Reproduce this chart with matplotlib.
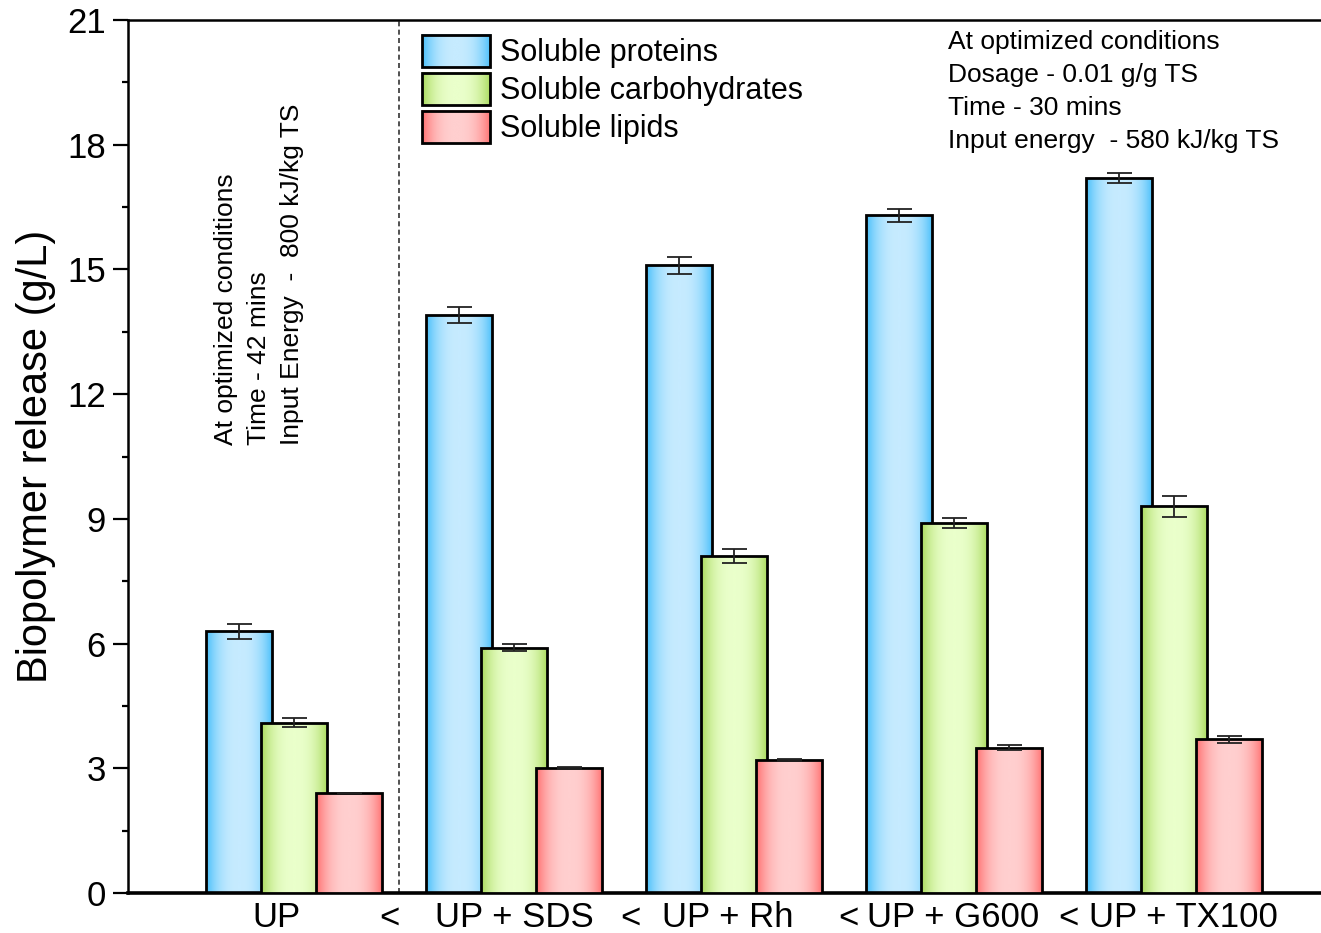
import matplotlib
matplotlib.use('Agg')
import matplotlib.pyplot as plt
import numpy as np
from matplotlib.colors import LinearSegmentedColormap
from matplotlib.legend_handler import HandlerBase
from matplotlib.image import BboxImage
from matplotlib.transforms import Bbox, TransformedBbox, blended_transform_factory
from matplotlib.patches import Rectangle
from matplotlib.ticker import MultipleLocator

# data
categories = ['UP', 'UP + SDS', 'UP + Rh', 'UP + G600', 'UP + TX100']
series = ['Soluble proteins', 'Soluble carbohydrates', 'Soluble lipids']
proteins = [6.3, 13.9, 15.1, 16.3, 17.2]
proteins_err = [0.18, 0.2, 0.2, 0.15, 0.12]
carbs = [4.1, 5.9, 8.1, 8.9, 9.3]
carbs_err = [0.1, 0.09, 0.17, 0.12, 0.25]
lipids = [2.4, 3.0, 3.2, 3.5, 3.7]
lipids_err = [0.0, 0.02, 0.03, 0.07, 0.08]

# label placement tweaks (group units)
label_shift = [-0.08, 0.0, -0.03, -0.005, 0.045]
sep_pos = [0.436, 1.527, 2.518, 3.518]

colors = [('#46BEFA', '#C6EBFF'), ('#A8DA5A', '#EAFFCB'), ('#FF6E6E', '#FFCFCF')]
cmaps = [LinearSegmentedColormap.from_list('g%d' % i, c) for i, c in enumerate(colors)]

t = np.linspace(0, 1, 200)
grad = (1 - np.abs(2 * t - 1) ** 2.5).reshape(1, -1)

plt.rcParams['font.family'] = ['Liberation Sans', 'DejaVu Sans']


class GradientHandler(HandlerBase):
    def __init__(self, cmap):
        super().__init__()
        self.cmap = cmap

    def create_artists(self, legend, orig_handle, xdescent, ydescent,
                       width, height, fontsize, trans):
        bb = TransformedBbox(Bbox.from_bounds(-xdescent, -ydescent, width, height), trans)
        img = BboxImage(bb, cmap=self.cmap, interpolation='bicubic')
        img.set_data(grad)
        img.set_clim(0, 1)
        rect = Rectangle((-xdescent, -ydescent), width, height, fc='none',
                         ec='black', lw=2, transform=trans)
        return [img, rect]


fig = plt.figure(figsize=(13.21, 9.33), dpi=100)
ax = fig.add_axes([128 / 1321, 1 - 893 / 933, 1 - 128 / 1321, (893 - 20) / 933])

x = np.arange(len(categories))
width = 0.3
offsets = [-0.25, 0.0, 0.25]
values = [proteins, carbs, lipids]
errors = [proteins_err, carbs_err, lipids_err]

for k in range(3):
    z = 2 + k
    bars = ax.bar(x + offsets[k], values[k], width, facecolor='none',
                  edgecolor='black', linewidth=2, zorder=z + 0.5)
    for b in bars:
        x0 = b.get_x()
        im = ax.imshow(grad, extent=[x0, x0 + b.get_width(), 0, b.get_height()],
                       cmap=cmaps[k], vmin=0, vmax=1, aspect='auto',
                       interpolation='bicubic', zorder=z)
        im.set_clip_path(b)
    ax.errorbar(x + offsets[k], values[k], yerr=errors[k], fmt='none',
                ecolor='#222222', elinewidth=1.3, capsize=9, capthick=1.3, zorder=6)

ax.axvline(0.477, color='#333333', ls=(0, (3, 2)), lw=1.2, zorder=1)

ax.set_xlim(-0.7545, 4.668)
ax.set_ylim(0, 21)
ax.yaxis.set_major_locator(MultipleLocator(3))
ax.yaxis.set_minor_locator(MultipleLocator(1.5))
ax.set_xticks([])
ax.tick_params(axis='y', which='major', length=11, width=1.6, labelsize=25, pad=5)
ax.tick_params(axis='y', which='minor', length=4, width=1.6)
for s in ['left', 'top']:
    ax.spines[s].set_linewidth(1.8)
ax.spines['bottom'].set_linewidth(2.6)
ax.spines['right'].set_visible(False)

ax.set_ylabel('Biopolymer release (g/L)', fontsize=30, labelpad=8)

tr = blended_transform_factory(ax.transData, ax.transAxes)
for i, c in enumerate(categories):
    ax.text(x[i] + label_shift[i], -0.009, c, transform=tr, ha='center', va='top',
            fontsize=25)
for p in sep_pos:
    ax.text(p, -0.01, '<', transform=tr, ha='center', va='top', fontsize=25)

ax.text(-0.159, 10.78, 'At optimized conditions\nTime - 42 mins\nInput Energy  -  800 kJ/kg TS',
        rotation=90, ha='center', va='bottom', multialignment='left',
        fontsize=19, linespacing=1.48)
ax.text(2.973, 20.75, 'At optimized conditions\nDosage - 0.01 g/g TS\nTime - 30 mins\nInput energy  - 580 kJ/kg TS',
        ha='left', va='top', fontsize=19, linespacing=1.47)

handles = [Rectangle((0, 0), 1, 1) for _ in series]
ax.legend(handles, series, handler_map={h: GradientHandler(cm) for h, cm in zip(handles, cmaps)},
          loc='upper left', bbox_to_anchor=(0.2464, 0.983), frameon=False, fontsize=22,
          borderpad=0, borderaxespad=0, handlelength=2.24, handleheight=1.25,
          labelspacing=0.15, handletextpad=0.3)

fig.savefig('out.png', dpi=100)
